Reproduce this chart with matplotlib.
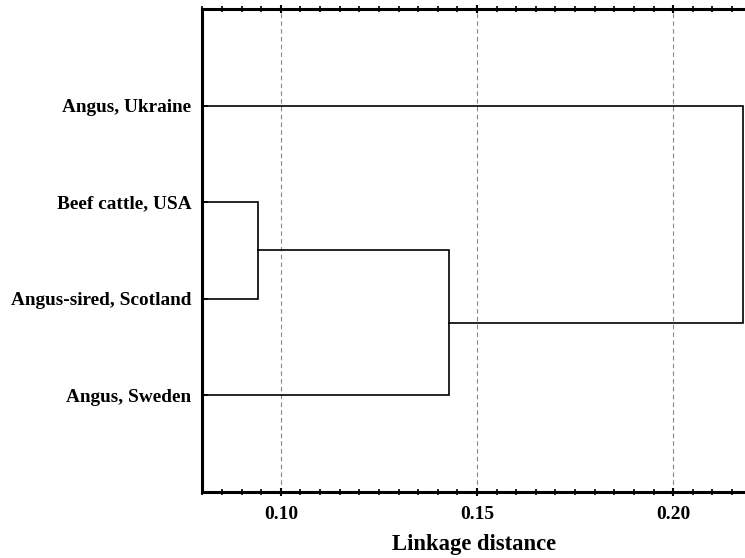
import matplotlib.pyplot as plt
from matplotlib.ticker import MultipleLocator

# leaves, top to bottom
leaves = ['Angus, Ukraine', 'Beef cattle, USA', 'Angus-sired, Scotland', 'Angus, Sweden']
# joins: (node a, node b, linkage distance); new nodes numbered after the leaves
joins = [(1, 2, 0.0943), (4, 3, 0.1428), (0, 5, 0.2178)]

plt.rcParams['font.family'] = ['Liberation Serif', 'DejaVu Serif']
plt.rcParams['font.weight'] = 'bold'

fig = plt.figure(figsize=(7.45, 5.58), dpi=100)
ax = fig.add_axes([0.2716, 0.1183, 0.7284, 0.8656])

# node position (y) and height (x)
pos = {i: (i + 1, 0.0) for i in range(len(leaves))}
for k, (a, b, d) in enumerate(joins):
    ya, xa = pos[a]
    yb, xb = pos[b]
    x0a = xa if xa > 0 else -1
    x0b = xb if xb > 0 else -1
    ax.plot([x0a, d, d, x0b], [ya, ya, yb, yb], color='black', lw=1.2,
            solid_joinstyle='miter')
    pos[len(leaves) + k] = ((ya + yb) / 2, d)

ax.set_xlim(0.0800, 0.2183)
ax.set_ylim(5, 0)
ax.set_yticks(range(1, len(leaves) + 1))
ax.set_yticklabels(leaves, fontsize=13.9, fontweight='bold')
ax.set_xticks([0.10, 0.15, 0.20])
ax.set_xticklabels(['0.10', '0.15', '0.20'], fontsize=14, fontweight='bold')
ax.xaxis.set_minor_locator(MultipleLocator(0.005))
ax.tick_params(axis='x', which='major', direction='inout', length=6, width=1.5,
               top=True, pad=7)
ax.tick_params(axis='x', which='minor', direction='inout', length=4, width=1.2,
               top=True)
ax.tick_params(axis='y', direction='in', length=4, width=1.2, pad=8)
ax.grid(axis='x', which='major', ls=(0, (4, 3)), color='#888888', lw=0.8)
ax.set_axisbelow(True)

for s in ['left', 'bottom', 'top']:
    ax.spines[s].set_linewidth(2.2)
ax.spines['right'].set_visible(False)

ax.set_xlabel('Linkage distance', fontsize=16.3, fontweight='bold', labelpad=8)

fig.savefig('out.png', dpi=100)
